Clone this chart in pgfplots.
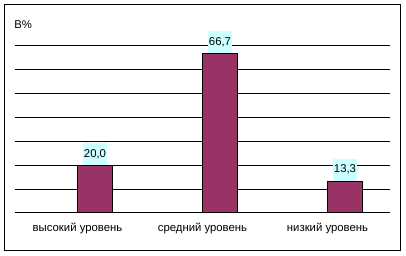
\documentclass[border=0pt]{standalone}
\usepackage{fontspec}
\setmainfont{Liberation Sans}
\usepackage{pgfplots}
\pgfplotsset{compat=1.18}
\definecolor{barc}{HTML}{993366}
\definecolor{lblc}{HTML}{CCFFFF}
\begin{document}
\begin{tikzpicture}
\useasboundingbox (-11.25pt,-32.25pt) rectangle (293.25pt,159.75pt);
\draw[black, line width=0.75pt] (-7.5pt,-28.5pt) rectangle (288.75pt,156pt);
\begin{axis}[
  at={(0,0)}, anchor=south west,
  scale only axis,
  width=281.25pt, height=125.25pt,
  xmin=-0.5, xmax=2.5, ymin=0, ymax=70,
  axis x line*=bottom, axis y line*=left,
  x axis line style={-, black, line width=0.75pt},
  y axis line style={draw=none},
  xtick={0,1,2},
  xticklabels={высокий уровень, средний уровень, низкий уровень},
  major x tick style={draw=none},
  extra x ticks={-0.5,0.5,1.5,2.5},
  extra x tick labels={},
  extra x tick style={tick align=outside, major tick length=3pt, tick style={black, line width=0.75pt}},
  xticklabel style={font=\fontsize{8.5}{10}\selectfont, anchor=base, yshift=-14pt},
  ytick={10,20,...,70},
  yticklabels={},
  ymajorgrids,
  grid style={black, line width=0.75pt},
  major y tick style={draw=none},
  clip=false,
]
\addplot[ybar, bar width=0.28, bar shift=0pt, fill=barc, draw=black, line width=0.75pt,
  nodes near coords,
  point meta=explicit symbolic,
  every node near coord/.append style={anchor=south, yshift=0pt, fill=lblc, draw=none,
    font=\fontsize{8.5}{10}\selectfont, minimum width=17.25pt, minimum height=16.5pt, inner sep=1pt, text=black},
] table[meta=label] {
x y label
0.14 20.0 20,0
1.14 66.7 66,7
2.14 13.3 13,3
};
\end{axis}
\node[anchor=west, font=\fontsize{8.5}{10}\selectfont, inner sep=0pt] at (-0.75pt,141pt) {В\%};
\end{tikzpicture}
\end{document}
